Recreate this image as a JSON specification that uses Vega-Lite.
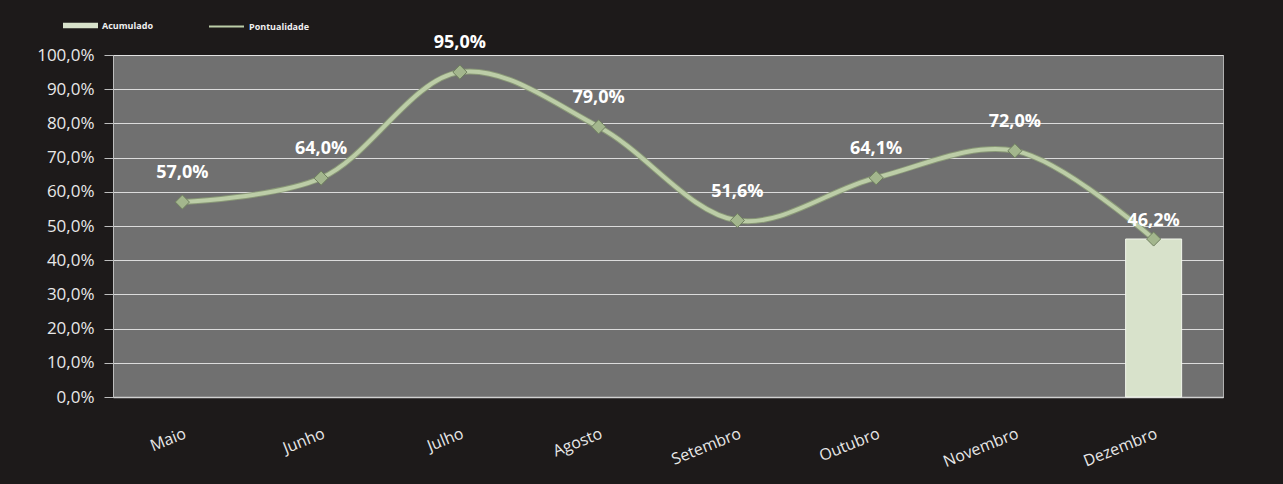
{
  "$schema": "https://vega.github.io/schema/vega-lite/v6.json",
  "width": 1110,
  "height": 342,
  "autosize": {"type": "none"},
  "padding": {"left": 113, "top": 55, "right": 60, "bottom": 87},
  "background": "#1d1a1a",
  "config": {
    "locale": {"number": {"decimal": ",", "thousands": ".", "grouping": [3], "currency": ["R$", ""]}},
    "view": {"fill": "#707070", "stroke": "#b0b0b0", "strokeWidth": 1},
    "font": "Open Sans"
  },
  "data": {
    "values": [
      {"mes": "Maio", "pontualidade": 0.570, "acumulado": null},
      {"mes": "Junho", "pontualidade": 0.640, "acumulado": null},
      {"mes": "Julho", "pontualidade": 0.950, "acumulado": null},
      {"mes": "Agosto", "pontualidade": 0.790, "acumulado": null},
      {"mes": "Setembro", "pontualidade": 0.516, "acumulado": null},
      {"mes": "Outubro", "pontualidade": 0.641, "acumulado": null},
      {"mes": "Novembro", "pontualidade": 0.720, "acumulado": null},
      {"mes": "Dezembro", "pontualidade": 0.462, "acumulado": 0.462}
    ]
  },
  "encoding": {
    "x": {
      "field": "mes", "type": "nominal",
      "sort": ["Maio", "Junho", "Julho", "Agosto", "Setembro", "Outubro", "Novembro", "Dezembro"],
      "scale": {"paddingInner": 0, "paddingOuter": 0},
      "axis": {
        "title": null, "labelAngle": -22, "labelAlign": "right", "labelBaseline": "top",
        "labelPadding": 28, "labelFontSize": 16, "labelColor": "#e8e8e8",
        "ticks": false, "domainColor": "#d0d0d0", "domainWidth": 1.5, "grid": false
      }
    },
    "y": {
      "field": "pontualidade", "type": "quantitative",
      "scale": {"domain": [0, 1], "nice": false},
      "axis": {
        "title": null, "format": ".1%", "values": [0, 0.1, 0.2, 0.3, 0.4, 0.5, 0.6, 0.7, 0.8, 0.9, 1],
        "labelFontSize": 17, "labelColor": "#e8e8e8", "labelPadding": 10, "labelOverlap": false,
        "tickSize": 9, "tickColor": "#bdbdbd", "domainColor": "#bdbdbd",
        "grid": true, "gridColor": "#e8e8e8", "gridOpacity": 0.9, "gridWidth": 1
      }
    }
  },
  "layer": [
    {
      "transform": [{"filter": "datum.acumulado != null"}],
      "mark": {"type": "bar", "size": 56, "stroke": "#f2f6ec", "strokeWidth": 1},
      "encoding": {
        "fill": {
          "datum": "Acumulado",
          "scale": {"domain": ["Acumulado"], "range": ["#d8e2cb"]},
          "legend": {"orient": "none", "legendX": -50, "legendY": -47, "title": null, "symbolType": "M-1,-0.16H1V0.16H-1Z", "symbolSize": 1225, "symbolStrokeWidth": 0, "labelColor": "#f0f0f0", "labelFontSize": 9, "labelFontWeight": "bold"}
        }
      }
    },
    {
      "mark": {"type": "line", "interpolate": "catmull-rom", "strokeWidth": 6, "color": "#8c9c78", "opacity": 0.9},
      "encoding": {}
    },
    {
      "mark": {"type": "line", "interpolate": "catmull-rom", "strokeWidth": 4},
      "encoding": {
        "stroke": {
          "datum": "Pontualidade",
          "scale": {"domain": ["Pontualidade"], "range": ["#bccda7"]},
          "legend": {"orient": "none", "legendX": 95, "legendY": -47, "title": null, "symbolType": "stroke", "symbolStrokeWidth": 2, "symbolSize": 1225, "labelColor": "#f0f0f0", "labelFontSize": 9, "labelFontWeight": "bold"}
        }
      }
    },
    {
      "mark": {"type": "point", "shape": "diamond", "filled": true, "size": 200, "color": "#a3b68d", "stroke": "#6f7f5f", "strokeWidth": 1, "opacity": 1}
    },
    {
      "transform": [{"filter": "datum.acumulado == null"}],
      "mark": {"type": "text", "dy": -29, "fontSize": 18, "fontWeight": "bold", "color": "#ffffff"},
      "encoding": {
        "text": {"field": "pontualidade", "type": "quantitative", "format": ".1%"}
      }
    },
    {
      "transform": [{"filter": "datum.acumulado != null"}],
      "mark": {"type": "text", "dy": -18, "fontSize": 18, "fontWeight": "bold", "color": "#ffffff"},
      "encoding": {
        "text": {"field": "acumulado", "type": "quantitative", "format": ".1%"}
      }
    }
  ]
}
